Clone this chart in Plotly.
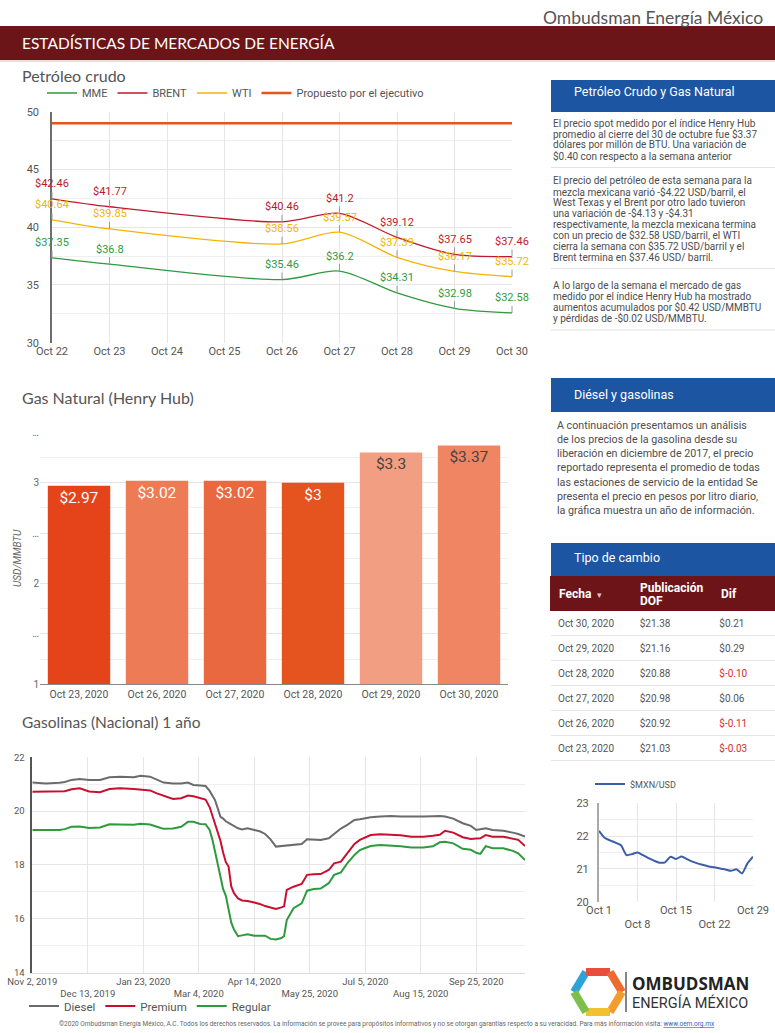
import plotly.graph_objects as go

W, H = 775, 1033


def fx(x):
    return x / W


def fy(y):
    return 1 - y / H


# ---------------- Data ----------------
oil_dates = ["2020-10-22", "2020-10-23", "2020-10-26", "2020-10-27", "2020-10-28", "2020-10-29", "2020-10-30"]
oil_mme = [37.35, 36.8, 35.46, 36.2, 34.31, 32.98, 32.58]
oil_brent = [42.46, 41.77, 40.46, 41.2, 39.12, 37.65, 37.46]
oil_wti = [40.64, 39.85, 38.56, 39.57, 37.39, 36.17, 35.72]
oil_propuesto = [49, 49, 49, 49, 49, 49, 49]

gas_fechas = ["Oct 23, 2020", "Oct 26, 2020", "Oct 27, 2020", "Oct 28, 2020", "Oct 29, 2020", "Oct 30, 2020"]
gas_henry_hub = [2.97, 3.02, 3.02, 3.0, 3.3, 3.37]
gas_colors = ["#e5441b", "#ec7b56", "#e9683f", "#e5531f", "#f29e82", "#ef8563"]
gas_text_colors = ["#ffffff", "#ffffff", "#ffffff", "#ffffff", "#444444", "#444444"]

gasolina_fechas = [
    "2019-11-02", "2019-11-12", "2019-11-22", "2019-11-26", "2019-12-01", "2019-12-07", "2019-12-14",
    "2019-12-22", "2019-12-29", "2020-01-06", "2020-01-16", "2020-01-21", "2020-01-28", "2020-02-02",
    "2020-02-07", "2020-02-14", "2020-02-20", "2020-02-25", "2020-02-29", "2020-03-05", "2020-03-09",
    "2020-03-12", "2020-03-14", "2020-03-16", "2020-03-18", "2020-03-20", "2020-03-22", "2020-03-24",
    "2020-03-26", "2020-03-28", "2020-03-30", "2020-04-02", "2020-04-05", "2020-04-09", "2020-04-14",
    "2020-04-18", "2020-04-22", "2020-04-26", "2020-04-30", "2020-05-04", "2020-05-06", "2020-05-08",
    "2020-05-13", "2020-05-19", "2020-05-23", "2020-05-28", "2020-06-02", "2020-06-08", "2020-06-12",
    "2020-06-17", "2020-06-22", "2020-06-27", "2020-07-01", "2020-07-05", "2020-07-09", "2020-07-16",
    "2020-07-24", "2020-07-31", "2020-08-08", "2020-08-17", "2020-08-24", "2020-08-29", "2020-09-02",
    "2020-09-08", "2020-09-15", "2020-09-21", "2020-09-25", "2020-09-28", "2020-10-02", "2020-10-07",
    "2020-10-15", "2020-10-22", "2020-10-26", "2020-10-31",
]
gasolina_diesel = [
    21.06, 21.03, 21.05, 21.08, 21.16, 21.19, 21.16,
    21.16, 21.26, 21.28, 21.26, 21.31, 21.28, 21.18,
    21.06, 21.03, 21.03, 21.06, 20.97, 20.95, 20.93,
    20.75, 20.6, 20.41, 20.1, 19.79, 19.72, 19.62,
    19.56, 19.5, 19.45, 19.36, 19.32, 19.36, 19.3,
    19.25, 19.15, 18.95, 18.68, 18.7, 18.7, 18.7,
    18.74, 18.78, 18.95, 18.94, 18.93, 18.99, 19.15,
    19.35, 19.5, 19.67, 19.7, 19.74, 19.77, 19.8,
    19.82, 19.8, 19.79, 19.8, 19.81, 19.82, 19.8,
    19.72, 19.55, 19.45, 19.3, 19.32, 19.36, 19.3,
    19.27, 19.2, 19.15, 19.05,
]
gasolina_premium = [
    20.72, 20.72, 20.72, 20.74, 20.81, 20.85, 20.73,
    20.7, 20.82, 20.85, 20.82, 20.8, 20.77, 20.66,
    20.56, 20.45, 20.48, 20.58, 20.55, 20.47, 20.43,
    20.15, 19.85, 19.55, 19.25, 18.9, 18.45, 18.1,
    17.94, 17.2, 16.95, 16.75, 16.68, 16.66, 16.6,
    16.55, 16.47, 16.41, 16.36, 16.42, 16.46, 17.07,
    17.19, 17.29, 17.63, 17.65, 17.66, 17.81, 18.06,
    18.12, 18.45, 18.78, 18.93, 19.02, 19.11, 19.14,
    19.12, 19.1, 19.05, 19.05, 19.08, 19.12, 19.27,
    19.2, 19.03, 18.96, 18.98, 18.99, 19.11, 19.05,
    19.05, 18.98, 18.93, 18.7,
]
gasolina_regular = [
    19.3, 19.3, 19.3, 19.33, 19.42, 19.43, 19.37,
    19.39, 19.51, 19.5, 19.49, 19.53, 19.5, 19.42,
    19.34, 19.35, 19.42, 19.6, 19.6, 19.52, 19.51,
    19.3, 18.95, 18.5, 18.05, 17.6, 17.1, 16.85,
    16.3, 15.85, 15.6, 15.35, 15.38, 15.42, 15.37,
    15.37, 15.37, 15.25, 15.23, 15.28, 15.35, 15.95,
    16.39, 16.57, 17.04, 17.1, 17.12, 17.32, 17.63,
    17.72, 18.08, 18.37, 18.55, 18.63, 18.7, 18.74,
    18.72, 18.69, 18.65, 18.65, 18.69, 18.84, 18.86,
    18.8, 18.6, 18.56, 18.45, 18.41, 18.7, 18.62,
    18.62, 18.52, 18.43, 18.18,
]
gasolina_ticks = ["2019-11-02", "2019-12-13", "2020-01-23", "2020-03-04", "2020-04-14",
                  "2020-05-25", "2020-07-05", "2020-08-15", "2020-09-25"]
gasolina_tick_labels = ["Nov 2, 2019", "Dec 13, 2019", "Jan 23, 2020", "Mar 4, 2020", "Apr 14, 2020",
                        "May 25, 2020", "Jul 5, 2020", "Aug 15, 2020", "Sep 25, 2020"]

mxn_fechas = ["2020-10-01", "2020-10-02", "2020-10-03", "2020-10-04", "2020-10-05", "2020-10-06",
              "2020-10-07", "2020-10-08", "2020-10-09", "2020-10-10", "2020-10-11", "2020-10-12",
              "2020-10-13", "2020-10-14", "2020-10-15", "2020-10-16", "2020-10-17", "2020-10-18",
              "2020-10-19", "2020-10-20", "2020-10-21", "2020-10-22", "2020-10-23", "2020-10-24",
              "2020-10-25", "2020-10-26", "2020-10-27", "2020-10-28", "2020-10-29"]
mxn_usd = [22.16, 21.95, 21.87, 21.8, 21.72, 21.42, 21.45, 21.5, 21.42, 21.33, 21.25, 21.19,
           21.2, 21.37, 21.3, 21.38, 21.3, 21.22, 21.16, 21.12, 21.07, 21.05, 21.01, 20.98,
           20.94, 20.99, 20.86, 21.17, 21.37]
mxn_ticks = ["2020-10-01", "2020-10-08", "2020-10-15", "2020-10-22", "2020-10-29"]
mxn_tick_labels = ["Oct 1", "Oct 8", "Oct 15", "Oct 22", "Oct 29"]

tc_columnas = ["Fecha", "Publicación DOF", "Dif"]
tc_fechas = ["Oct 30, 2020", "Oct 29, 2020", "Oct 28, 2020", "Oct 27, 2020", "Oct 26, 2020", "Oct 23, 2020"]
tc_dof = [21.38, 21.16, 20.88, 20.98, 20.92, 21.03]
tc_dif = [0.21, 0.29, -0.10, 0.06, -0.11, -0.03]

# ---------------- Styles ----------------
GRID = "#e6e6e6"
MINOR = "#efefef"
TICK = dict(family="Roboto", size=11, color="#555555")
C_MME, C_BRENT, C_WTI, C_PROP = "#2f9a41", "#c0182d", "#f4b400", "#e4561f"
BLUE = "#1c55a2"
DARKRED = "#6b1518"
TABLERED = "#6d1419"

fig = go.Figure()

# ---------------- Petróleo crudo ----------------
for name, vals, col, wdt in [("MME", oil_mme, C_MME, 1.3), ("BRENT", oil_brent, C_BRENT, 1.3),
                             ("WTI", oil_wti, C_WTI, 1.3),
                             ("Propuesto por el ejecutivo", oil_propuesto, C_PROP, 2.6)]:
    fig.add_trace(go.Scatter(x=oil_dates, y=vals, name=name, mode="lines",
                             line=dict(color=col, width=wdt, shape="spline", smoothing=0.8),
                             xaxis="x", yaxis="y", legend="legend", hoverinfo="skip"))

annotations = []
for vals, col in [(oil_brent, C_BRENT), (oil_wti, C_WTI), (oil_mme, C_MME)]:
    for d, v in zip(oil_dates, vals):
        annotations.append(dict(x=d, y=v, xref="x", yref="y", text=f"${v:g}", showarrow=True,
                                arrowhead=0, arrowwidth=1, arrowcolor="#9a9a9a", ax=0, ay=-15,
                                font=dict(family="Roboto", size=11, color=col)))

# ---------------- Gas natural ----------------
fig.add_trace(go.Bar(x=gas_fechas, y=gas_henry_hub, marker=dict(color=gas_colors, line=dict(width=0)),
                     text=[f"${v:g}" for v in gas_henry_hub], textposition="inside",
                     insidetextanchor="end", textangle=0,
                     textfont=dict(family="Roboto", size=15.5, color=gas_text_colors),
                     xaxis="x2", yaxis="y2", showlegend=False, hoverinfo="skip"))

# ---------------- Gasolinas ----------------
for name, vals, col in [("Diesel", gasolina_diesel, "#6b6b6b"), ("Premium", gasolina_premium, "#c8102e"),
                        ("Regular", gasolina_regular, "#2e9a3e")]:
    fig.add_trace(go.Scatter(x=gasolina_fechas, y=vals, name=name, mode="lines",
                             line=dict(color=col, width=2),
                             xaxis="x3", yaxis="y3", legend="legend2", hoverinfo="skip"))

# ---------------- MXN/USD ----------------
fig.add_trace(go.Scatter(x=mxn_fechas, y=mxn_usd, name="$MXN/USD", mode="lines",
                         line=dict(color="#3b5ea9", width=2, shape="spline", smoothing=0.6),
                         xaxis="x4", yaxis="y4", legend="legend3", hoverinfo="skip"))

# ---------------- Tipo de cambio table ----------------
dif_colors = ["#555555" if v >= 0 else "#d32f2f" for v in tc_dif]
fig.add_trace(go.Table(
    domain=dict(x=[fx(550), 1.0], y=[fy(762), fy(576)]),
    columnwidth=[82, 80, 63],
    header=dict(values=["", "", ""], fill_color=TABLERED, height=35,
                font=dict(family="Roboto", size=10, color="white"),
                line=dict(color=TABLERED, width=0)),
    cells=dict(values=[tc_fechas, [f"${v:.2f}" for v in tc_dof], [f"${v:.2f}" for v in tc_dif]],
               fill_color="white", align="left", height=25,
               font=dict(family="Roboto", size=10,
                         color=[["#555555"] * len(tc_fechas), ["#555555"] * len(tc_fechas), dif_colors]),
               line=dict(color="white", width=0)),
))

# ---------------- Shapes ----------------
shapes = []
shapes.append(dict(type="rect", xref="paper", yref="paper", x0=0, x1=1, y0=fy(60), y1=fy(26),
                   fillcolor=DARKRED, line=dict(width=0), layer="below"))
shapes.append(dict(type="line", xref="paper", yref="paper", x0=0, x1=1, y0=fy(61), y1=fy(61),
                   line=dict(color="#e9cfcf", width=1.5)))
for y0, y1 in [(80, 112), (378, 412), (543, 576)]:
    shapes.append(dict(type="rect", xref="paper", yref="paper", x0=fx(551), x1=1, y0=fy(y1), y1=fy(y0),
                       fillcolor=BLUE, line=dict(width=0), layer="below"))
# solid header band over the table header (hides column seams)
shapes.append(dict(type="rect", xref="paper", yref="paper", x0=fx(551), x1=1, y0=fy(611), y1=fy(576),
                   fillcolor=TABLERED, line=dict(width=0), layer="above"))
for y in [167.5, 268.5, 330]:
    shapes.append(dict(type="line", xref="paper", yref="paper", x0=fx(551), x1=1, y0=fy(y), y1=fy(y),
                       line=dict(color="#e3e3e3", width=1)))
for y in [635.5, 660.5, 685.5, 710.5, 735.5, 760.5]:
    shapes.append(dict(type="line", xref="paper", yref="paper", x0=fx(551), x1=1, y0=fy(y), y1=fy(y),
                       line=dict(color="#e6e6e6", width=1), layer="above"))

# logo hexagon
hexv = [(574, 992), (586, 972), (610, 972), (622, 992), (610, 1012), (586, 1012)]
hexc = ["#2ea3d8", "#e94e3c", "#ef6a2e", "#f39c2b", "#f2c12f", "#7cc04a"]
for i in range(6):
    (xa, ya), (xb, yb) = hexv[i], hexv[(i + 1) % 6]
    shapes.append(dict(type="line", xref="paper", yref="paper", x0=fx(xa), y0=fy(ya), x1=fx(xb), y1=fy(yb),
                       line=dict(color=hexc[i], width=8)))
shapes.append(dict(type="line", xref="paper", yref="paper", x0=fx(626), x1=fx(626), y0=fy(1012), y1=fy(972),
                   line=dict(color="#333333", width=1.2)))


# ---------------- Text ----------------
def txt(x, y, s, size=10, color="#4d4d4d", anchor="left", family="Roboto", weight=None):
    f = dict(family=family, size=size, color=color)
    if weight:
        f["weight"] = weight
    annotations.append(dict(x=fx(x), y=fy(y), xref="paper", yref="paper", text=s, showarrow=False,
                            xanchor=anchor, yanchor="middle", font=f))


txt(765, 17, "Ombudsman Energía México", size=17.5, color="#555555", anchor="right", family="Lato")
txt(20, 43, "ESTADÍSTICAS DE MERCADOS DE ENERGÍA", size=15.5, color="white", family="Lato")
txt(20, 76, "Petróleo crudo", size=16, color="#555555", family="Lato")
txt(20, 397, "Gas Natural (Henry Hub)", size=16, color="#555555", family="Lato")
txt(20, 722, "Gasolinas (Nacional) 1 año", size=15.5, color="#555555", family="Lato")

txt(572, 92, "Petróleo Crudo y Gas Natural", size=12.5, color="white")
txt(572, 394, "Diésel y gasolinas", size=12.5, color="white")
txt(572, 557, "Tipo de cambio", size=12.5, color="white")

# table header texts
txt(557, 594, f"<b>{tc_columnas[0]}</b>  <span style='font-size:9px;color:#d9c5c5'>▾</span>",
    size=12, color="white")
pub, dof_word = tc_columnas[1].split(" ")
txt(638, 587.5, f"<b>{pub}</b>", size=12, color="white")
txt(638, 600.5, f"<b>{dof_word}</b>", size=12, color="white")
txt(719, 594, f"<b>{tc_columnas[2]}</b>", size=12, color="white")

p1 = ["El precio spot medido por el índice Henry Hub",
      "promedio al cierre del 30 de octubre fue $3.37",
      "dólares por millón de BTU. Una variación de",
      "$0.40 con respecto a la semana anterior"]
p2 = ["El precio del petróleo de esta semana para la",
      "mezcla mexicana varió -$4.22 USD/barril, el",
      "West Texas y el Brent por otro lado tuvieron",
      "una variación de -$4.13 y -$4.31",
      "respectivamente, la mezcla mexicana termina",
      "con un precio de $32.58 USD/barril, el WTI",
      "cierra la semana con $35.72 USD/barril y el",
      "Brent termina en $37.46 USD/ barril."]
p3 = ["A lo largo de la semana el mercado de gas",
      "medido por el índice Henry Hub ha mostrado",
      "aumentos acumulados por $0.42 USD/MMBTU",
      "y pérdidas de -$0.02 USD/MMBTU."]
p4 = ["A continuación presentamos un análisis",
      "de los precios de la gasolina desde su",
      "liberación en diciembre de 2017, el precio",
      "reportado representa el promedio de todas",
      "las estaciones de servicio de la entidad Se",
      "presenta el precio en pesos por litro diario,",
      "la gráfica muestra un año de información."]
for lines, y0, dy in [(p1, 123, 10.9), (p2, 181, 10.8), (p3, 285.7, 10.8)]:
    for i, s in enumerate(lines):
        txt(551, y0 + i * dy, s, size=10)
for i, s in enumerate(p4):
    txt(555, 425 + i * 14.3, s, size=10.7)

txt(630, 983, "OMBUDSMAN", size=17, color="#222222", family="Open Sans", weight="bold")
txt(630, 1003, "ENERGÍA MÉXICO", size=14.5, color="#333333", family="Roboto")

txt(387, 1024, "©2020 Ombudsman Energía México, A.C. Todos los derechos reservados. La información se provee para "
               "propósitos informativos y no se otorgan garantías respecto a su veracidad. Para más información visita: "
               "<span style='color:#2a62c9'><u>www.oem.org.mx</u></span>",
    size=6.5, color="#666666", anchor="center")


def stagger(labels):
    return [lab if i % 2 == 0 else "<br>" + lab for i, lab in enumerate(labels)]


fig.update_layout(
    width=W, height=H, autosize=False,
    margin=dict(l=0, r=0, t=0, b=0, pad=0),
    paper_bgcolor="white", plot_bgcolor="white",
    font=dict(family="Roboto", color="#555555"),
    shapes=shapes, annotations=annotations,
    bargap=0.2,
    legend=dict(orientation="h", x=fx(42), y=fy(93), xanchor="left", yanchor="middle",
                font=dict(family="Roboto", size=11, color="#555555"), bgcolor="rgba(0,0,0,0)",
                itemwidth=30, tracegroupgap=0),
    legend2=dict(orientation="h", x=fx(24), y=fy(1006), xanchor="left", yanchor="middle",
                 font=dict(family="Roboto", size=11.5, color="#555555"), bgcolor="rgba(0,0,0,0)",
                 itemwidth=30),
    legend3=dict(orientation="h", x=fx(590), y=fy(784), xanchor="left", yanchor="middle",
                 font=dict(family="Roboto", size=9, color="#555555"), bgcolor="rgba(0,0,0,0)",
                 itemwidth=30),
    # oil
    xaxis=dict(domain=[fx(52), fx(512)], anchor="y", type="date", automargin=False, tickangle=0,
               range=[oil_dates[0], oil_dates[-1]], dtick=86400000, tickformat="%b %d",
               showgrid=True, gridcolor=GRID, zeroline=False, showline=False, ticks="",
               tickfont=TICK),
    yaxis=dict(domain=[fy(342.7), fy(111.7)], anchor="x", range=[30, 50], dtick=5, automargin=False,
               showgrid=True, gridcolor=GRID, minor=dict(dtick=2.5, showgrid=True, gridcolor=MINOR),
               zeroline=False, showline=True, linecolor="#6e6e6e", linewidth=1.5, ticks="",
               tickfont=TICK, ticklabelstandoff=9),
    # gas
    xaxis2=dict(domain=[fx(40), fx(508)], anchor="y2", type="category", showgrid=False, automargin=False,
                tickangle=0, showline=True, linecolor="#8a8a8a", linewidth=1.2, ticks="",
                tickfont=dict(family="Roboto", size=10.5, color="#555555")),
    yaxis2=dict(domain=[fy(684.3), fy(432.3)], anchor="x2", range=[1, 3.5], automargin=False,
                tickvals=[1, 1.5, 2, 2.5, 3, 3.5], ticktext=["1", "…", "2", "…", "3", "…"],
                showgrid=True, gridcolor=GRID, minor=dict(dtick=0.25, showgrid=True, gridcolor=MINOR),
                zeroline=False, showline=False, ticks="",
                tickfont=dict(family="Roboto", size=10, color="#666666"),
                title=dict(text="<i>USD/MMBTU</i>", font=dict(family="Roboto", size=10, color="#666666"),
                           standoff=8)),
    # gasolinas
    xaxis3=dict(domain=[fx(32.3), fx(525)], anchor="y3", type="date", automargin=False, tickangle=0,
                range=["2019-11-02", "2020-10-31"], tickvals=gasolina_ticks,
                ticktext=stagger(gasolina_tick_labels), showgrid=True, gridcolor=GRID,
                zeroline=False, showline=True, linecolor="#dddddd", ticks="",
                tickfont=dict(family="Roboto", size=9.5, color="#555555")),
    yaxis3=dict(domain=[fy(972.5), fy(757.3)], anchor="x3", range=[14, 22], dtick=2, automargin=False,
                showgrid=True, gridcolor=GRID, minor=dict(dtick=1, showgrid=True, gridcolor=MINOR),
                zeroline=False, showline=True, linecolor="#555555", linewidth=1.5, ticks="",
                tickfont=dict(family="Roboto", size=9.5, color="#555555"), ticklabelstandoff=4),
    # mxn
    xaxis4=dict(domain=[fx(599), fx(753)], anchor="y4", type="date", automargin=False, tickangle=0,
                range=["2020-10-01", "2020-10-29"], tickvals=mxn_ticks,
                ticktext=stagger(mxn_tick_labels), showgrid=True, gridcolor=GRID,
                zeroline=False, showline=False, ticks="",
                tickfont=dict(family="Roboto", size=11, color="#555555")),
    yaxis4=dict(domain=[fy(901.7), fy(803.3)], anchor="x4", range=[20, 23], dtick=1, automargin=False,
                showgrid=True, gridcolor=GRID, minor=dict(dtick=0.5, showgrid=True, gridcolor=MINOR),
                zeroline=False, showline=True, linecolor="#aaaaaa", linewidth=2, ticks="",
                tickfont=dict(family="Roboto", size=11, color="#555555"), ticklabelstandoff=6),
)

fig.write_html("out.html", config={"displayModeBar": False},
               post_script="document.body.style.margin='0';document.body.style.overflow='hidden';")
